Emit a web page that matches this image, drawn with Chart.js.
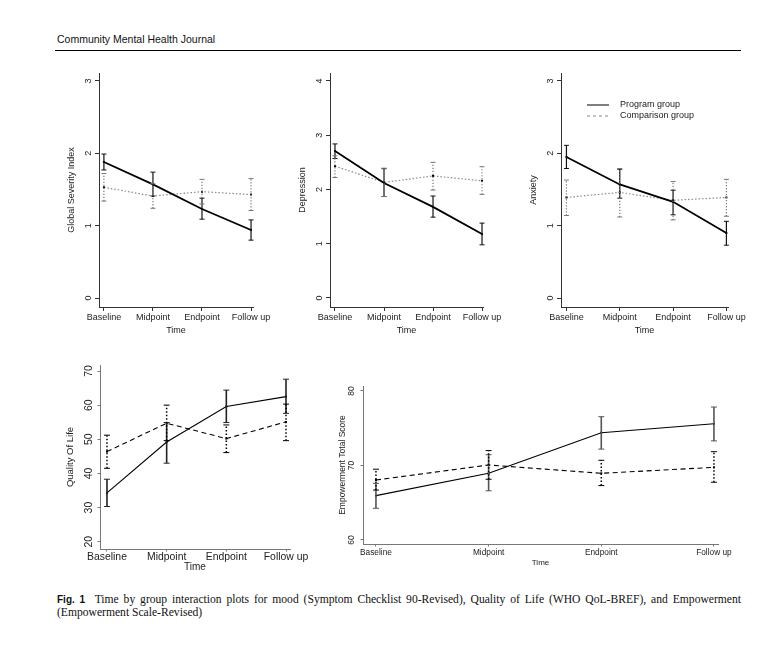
<!DOCTYPE html>
<html>
<head>
<meta charset="utf-8">
<script src="https://cdn.jsdelivr.net/npm/chart.js@4.4.0/dist/chart.umd.min.js"></script>
<style>
    body { margin: 0; background: #fff; width: 783px; height: 647px; position: relative; overflow: hidden; font-family: "Liberation Sans", Arial, sans-serif; }
    canvas { position: absolute; }
    #journal { position: absolute; left: 57px; top: 33px; font-size: 10.5px; color: #111; }
    #rule { position: absolute; left: 55px; top: 50px; width: 686px; height: 1px; background: #000; }
    #caption { position: absolute; left: 57px; top: 593px; width: 684px; font-family: "Liberation Serif", "Times New Roman", serif; font-size: 11.6px; line-height: 13px; color: #111; }
    #caption .l1 { text-align: justify; text-align-last: justify; }
    #caption b { font-family: "Liberation Sans", Arial, sans-serif; font-size: 10px; }
</style>
</head>
<body>
<div id="journal">Community Mental Health Journal</div>
<div id="rule"></div>

<canvas id="gsiChart" width="225" height="275" style="left:50px;top:65px"></canvas>
<canvas id="depChart" width="225" height="275" style="left:280px;top:65px"></canvas>
<canvas id="anxChart" width="240" height="275" style="left:510px;top:65px"></canvas>
<canvas id="qolChart" width="262" height="222" style="left:50px;top:355px"></canvas>
<canvas id="empChart" width="420" height="200" style="left:320px;top:376px"></canvas>

<div id="caption">
    <div class="l1"><b>Fig. 1</b>&nbsp; Time by group interaction plots for mood (Symptom Checklist 90-Revised), Quality of Life (WHO QoL-BREF), and Empowerment</div>
    <div>(Empowerment Scale-Revised)</div>
</div>

<script>
// categories
const timeLabels = ['Baseline', 'Midpoint', 'Endpoint', 'Follow up'];

// Global Severity Index
const gsiProgram = [1.88, 1.57, 1.23, 0.94];
const gsiProgramLo = [1.77, 1.41, 1.09, 0.80];
const gsiProgramHi = [1.99, 1.74, 1.38, 1.08];
const gsiComparison = [1.53, 1.41, 1.47, 1.43];
const gsiComparisonLo = [1.34, 1.24, 1.30, 1.21];
const gsiComparisonHi = [1.72, 1.58, 1.64, 1.65];
const gsiTicks = [0, 1, 2, 3];

// Depression
const depProgram = [2.71, 2.12, 1.68, 1.18];
const depProgramLo = [2.57, 1.87, 1.49, 0.98];
const depProgramHi = [2.84, 2.39, 1.88, 1.38];
const depComparison = [2.43, 2.13, 2.25, 2.16];
const depComparisonLo = [2.22, 1.87, 1.99, 1.91];
const depComparisonHi = [2.62, 2.38, 2.50, 2.42];
const depTicks = [0, 1, 2, 3, 4];

// Anxiety
const anxProgram = [1.95, 1.57, 1.33, 0.90];
const anxProgramLo = [1.79, 1.38, 1.15, 0.73];
const anxProgramHi = [2.11, 1.78, 1.49, 1.06];
const anxComparison = [1.39, 1.46, 1.35, 1.39];
const anxComparisonLo = [1.14, 1.12, 1.08, 1.13];
const anxComparisonHi = [1.63, 1.79, 1.61, 1.64];
const anxTicks = [0, 1, 2, 3];

// Quality of life
const qolProgram = [34.3, 49.2, 59.6, 62.5];
const qolProgramLo = [30.3, 43.0, 54.9, 57.6];
const qolProgramHi = [38.3, 54.9, 64.4, 67.6];
const qolComparison = [46.4, 54.7, 50.2, 55.1];
const qolComparisonLo = [41.5, 49.6, 46.1, 49.6];
const qolComparisonHi = [51.2, 60.0, 54.2, 60.3];
const qolTicks = [20, 30, 40, 50, 60, 70];

// Empowerment
const empProgram = [65.95, 68.95, 74.4, 75.6];
const empProgramLo = [64.25, 66.6, 72.2, 73.3];
const empProgramHi = [67.6, 71.45, 76.55, 77.85];
const empComparison = [68.05, 70.07, 68.95, 69.75];
const empComparisonLo = [66.7, 68.15, 67.3, 67.75];
const empComparisonHi = [69.5, 72.0, 70.7, 71.85];
const empTicks = [60, 70, 80];

const FONT = '"Liberation Sans", Arial, sans-serif';

// error bars from lo/hi arrays on each dataset
const errorBars = {
    id: 'errorBars',
    afterDatasetsDraw(chart) {
        const { ctx, scales: { x, y } } = chart;
        chart.data.datasets.forEach(ds => {
            ds.errLo.forEach((lo, i) => {
                const px = x.getPixelForValue(i);
                const pLo = y.getPixelForValue(lo);
                const pHi = y.getPixelForValue(ds.errHi[i]);
                ctx.save();
                ctx.strokeStyle = ds.errColor;
                ctx.lineWidth = ds.errWidth;
                ctx.setLineDash(ds.errDash);
                ctx.beginPath();
                ctx.moveTo(px, pLo);
                ctx.lineTo(px, pHi);
                ctx.stroke();
                ctx.setLineDash([]);
                ctx.lineWidth = 1;
                ctx.beginPath();
                ctx.moveTo(px - ds.errCap, pLo);
                ctx.lineTo(px + ds.errCap, pLo);
                ctx.moveTo(px - ds.errCap, pHi);
                ctx.lineTo(px + ds.errCap, pHi);
                ctx.stroke();
                ctx.restore();
            });
        });
    }
};

// tick labels, titles and legend
const panelText = {
    id: 'panelText',
    afterDraw(chart, args, o) {
        const { ctx, chartArea: a, scales: { x, y } } = chart;
        ctx.save();
        ctx.fillStyle = '#222';
        ctx.textAlign = 'center';
        ctx.textBaseline = 'middle';

        ctx.font = o.xFont + 'px ' + FONT;
        timeLabels.forEach((t, i) => ctx.fillText(t, x.getPixelForValue(i), a.bottom + o.xLabelOff));
        ctx.font = o.xTitleFont + 'px ' + FONT;
        ctx.fillText('Time', (a.left + a.right) / 2, a.bottom + o.xTitleOff);

        ctx.font = o.yFont + 'px ' + FONT;
        y.ticks.forEach(t => {
            ctx.save();
            ctx.translate(a.left - o.yLabelOff, y.getPixelForValue(t.value));
            ctx.rotate(-Math.PI / 2);
            ctx.fillText(String(t.value), 0, 0);
            ctx.restore();
        });

        ctx.save();
        ctx.font = o.yTitleFont + 'px ' + FONT;
        ctx.translate(a.left - o.yTitleOff, (a.top + a.bottom) / 2);
        ctx.rotate(-Math.PI / 2);
        ctx.fillText(o.yTitle, 0, 0);
        ctx.restore();

        if (o.legend) {
            ctx.textAlign = 'left';
            ctx.font = '9px ' + FONT;
            chart.data.datasets.forEach((ds, i) => {
                const ly = a.top + 32 + i * 11;
                ctx.save();
                ctx.strokeStyle = ds.borderColor;
                ctx.lineWidth = 1;
                ctx.setLineDash(i === 0 ? [] : [3, 3]);
                ctx.beginPath();
                ctx.moveTo(a.left + 26, ly);
                ctx.lineTo(a.left + 48, ly);
                ctx.stroke();
                ctx.restore();
                ctx.fillText(ds.label, a.left + 59, ly);
            });
        }
        ctx.restore();
    }
};

function makePanel(canvasId, p) {
    const ctx = document.getElementById(canvasId).getContext('2d');
    const s = p.style;
    const axis = (color) => ({
        grid: { drawOnChartArea: false, color: color, tickLength: s.tickLen, lineWidth: 1 },
        border: { color: color, width: 1 },
        ticks: { display: false }
    });
    return new Chart(ctx, {
        type: 'line',
        data: {
            datasets: [{
                label: 'Program group',
                data: p.program.map((v, i) => ({ x: i, y: v })),
                borderColor: '#000',
                borderWidth: s.progWidth,
                pointRadius: 1.4,
                pointStyle: 'rect',
                pointBackgroundColor: '#000',
                pointBorderWidth: 0,
                errLo: p.programLo, errHi: p.programHi,
                errColor: s.progErrColor, errWidth: s.progErrWidth, errDash: [], errCap: s.cap
            }, {
                label: 'Comparison group',
                data: p.comparison.map((v, i) => ({ x: i, y: v })),
                borderColor: s.compColor,
                borderWidth: s.compWidth,
                borderDash: s.compDash,
                pointRadius: 1.4,
                pointStyle: 'rect',
                pointBackgroundColor: '#000',
                pointBorderWidth: 0,
                errLo: p.comparisonLo, errHi: p.comparisonHi,
                errColor: s.compErrColor, errWidth: s.compErrWidth, errDash: s.compErrDash, errCap: s.cap
            }]
        },
        options: {
            responsive: false,
            animation: false,
            layout: { padding: { top: p.padTop, right: p.padRight, left: 0, bottom: 0 } },
            plugins: {
                legend: { display: false },
                tooltip: { enabled: false },
                panelText: Object.assign({ yTitle: p.yTitle, legend: !!p.legend }, p.text)
            },
            scales: {
                x: Object.assign(axis(s.axisColor), {
                    type: 'linear', min: p.xMin, max: p.xMax,
                    afterBuildTicks: sc => { sc.ticks = timeLabels.map((t, i) => ({ value: i })); },
                    afterFit: sc => { sc.height = p.bottom; }
                }),
                y: Object.assign(axis(s.axisColor), {
                    min: p.yMin, max: p.yMax,
                    afterBuildTicks: sc => { sc.ticks = p.yTicks.map(v => ({ value: v })); },
                    afterFit: sc => { sc.width = p.left; }
                })
            }
        },
        plugins: [errorBars, panelText]
    });
}

// top row: base-graphics look
const moodStyle = {
    axisColor: '#333', tickLen: 4, progWidth: 1.8, compColor: '#8a8a8a', compWidth: 1.2, compDash: [1.5, 2],
    progErrColor: '#111', progErrWidth: 1.2, compErrColor: '#777', compErrWidth: 1.2, compErrDash: [1.2, 1.8], cap: 2.5
};
const moodText = { xFont: 9, xTitleFont: 9, yFont: 9, yTitleFont: 9, xLabelOff: 11, xTitleOff: 24, yLabelOff: 10, yTitleOff: 27 };

// bottom row: stata look
const qolStyle = {
    axisColor: '#777', tickLen: 2.5, progWidth: 1.1, compColor: '#000', compWidth: 1.1, compDash: [5, 3.5],
    progErrColor: '#222', progErrWidth: 1.6, compErrColor: '#000', compErrWidth: 1.5, compErrDash: [1.5, 2], cap: 3
};
const empStyle = Object.assign({}, qolStyle, { progErrColor: '#555' });

makePanel('gsiChart', {
    program: gsiProgram, programLo: gsiProgramLo, programHi: gsiProgramHi,
    comparison: gsiComparison, comparisonLo: gsiComparisonLo, comparisonHi: gsiComparisonHi,
    yTicks: gsiTicks, yMin: -0.124, yMax: 3.11, xMin: -0.10, xMax: 3.04,
    padTop: 8, padRight: 22, left: 49, bottom: 33,
    yTitle: 'Global Severity Index', style: moodStyle, text: moodText
});

makePanel('depChart', {
    program: depProgram, programLo: depProgramLo, programHi: depProgramHi,
    comparison: depComparison, comparisonLo: depComparisonLo, comparisonHi: depComparisonHi,
    yTicks: depTicks, yMin: -0.166, yMax: 4.147, xMin: -0.102, xMax: 3.02,
    padTop: 8, padRight: 22, left: 50, bottom: 33,
    yTitle: 'Depression', style: moodStyle, text: moodText
});

makePanel('anxChart', {
    program: anxProgram, programLo: anxProgramLo, programHi: anxProgramHi,
    comparison: anxComparison, comparisonLo: anxComparisonLo, comparisonHi: anxComparisonHi,
    yTicks: anxTicks, yMin: -0.124, yMax: 3.11, xMin: -0.102, xMax: 3.03,
    padTop: 8, padRight: 22, left: 51, bottom: 33,
    yTitle: 'Anxiety', style: moodStyle, text: moodText, legend: true
});

makePanel('qolChart', {
    program: qolProgram, programLo: qolProgramLo, programHi: qolProgramHi,
    comparison: qolComparison, comparisonLo: qolComparisonLo, comparisonHi: qolComparisonHi,
    yTicks: qolTicks, yMin: 17.86, yMax: 71.76, xMin: -0.117, xMax: 3.067,
    padTop: 10, padRight: 22, left: 50, bottom: 28,
    yTitle: 'Quality Of Life', style: qolStyle,
    text: { xFont: 10.4, xTitleFont: 10, yFont: 10.5, yTitleFont: 9.5, xLabelOff: 8, xTitleOff: 18.5, yLabelOff: 11, yTitleOff: 30 }
});

makePanel('empChart', {
    program: empProgram, programLo: empProgramLo, programHi: empProgramHi,
    comparison: empComparison, comparisonLo: empComparisonLo, comparisonHi: empComparisonHi,
    yTicks: empTicks, yMin: 59.46, yMax: 80.67, xMin: -0.115, xMax: 3.036,
    padTop: 10, padRight: 22, left: 43, bottom: 32,
    yTitle: 'Empowerment Total Score', style: empStyle,
    text: { xFont: 8.3, xTitleFont: 8, yFont: 8.5, yTitleFont: 8.5, xLabelOff: 8.7, xTitleOff: 18.7, yLabelOff: 11, yTitleOff: 20 }
});
</script>
</body>
</html>
